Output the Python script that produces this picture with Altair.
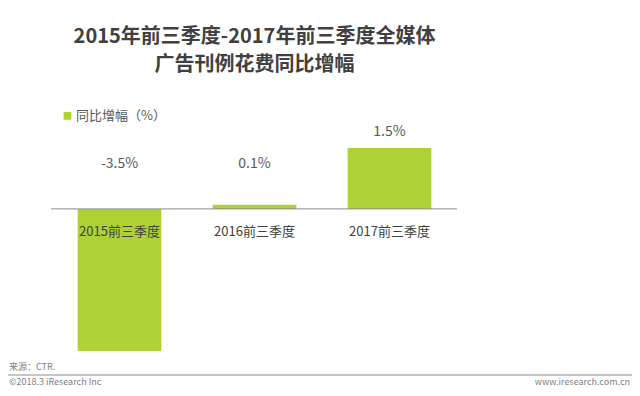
import altair as alt
import pandas as pd

categories = ["2015前三季度", "2016前三季度", "2017前三季度"]
values = [-3.5, 0.1, 1.5]
value_labels = ["-3.5%", "0.1%", "1.5%"]
series_name = "同比增幅（%）"
title_lines = ["2015年前三季度-2017年前三季度全媒体", "广告刊例花费同比增幅"]
source_text = "来源：CTR."
copyright_text = "©2018.3 iResearch Inc"
site_text = "www.iresearch.com.cn"

df = pd.DataFrame({
    "cat": categories,
    "value": values,
    "label": value_labels,
    "series": [series_name] * len(categories),
})

FONT = "Noto Sans CJK SC"
GREEN = "#aed136"
GRAY = "#595959"

xscale = alt.Scale(domain=categories, paddingInner=0.38, paddingOuter=0.19)
yscale = alt.Scale(domain=[-3.5, 2.5], nice=False, zero=True)

base = alt.Chart(df)

bars = base.mark_bar().encode(
    x=alt.X("cat:N", scale=xscale, axis=None, sort=categories),
    y=alt.Y("value:Q", scale=yscale, axis=None),
    y2=alt.datum(0),
    color=alt.Color(
        "series:N",
        scale=alt.Scale(range=[GREEN]),
        legend=alt.Legend(
            orient="none", legendX=9, legendY=2, title=None,
            symbolType="square", symbolSize=60, symbolStrokeWidth=0,
            labelFontSize=13, labelColor=GRAY, labelFont=FONT, labelOffset=2,
        ),
    ),
)

baseline = alt.Chart(pd.DataFrame({"v": [0]})).mark_rule(color="#8c8c8c", strokeWidth=1).encode(
    y=alt.Y("v:Q", scale=yscale, axis=None),
    x=alt.value(-1), x2=alt.value(405),
)

value_text = base.transform_calculate(
    pos="max(datum.value, 0.7)"
).mark_text(fontSize=14, color=GRAY, font=FONT, baseline="middle", dy=-16).encode(
    x=alt.X("cat:N", scale=xscale, axis=None, sort=categories),
    y=alt.Y("pos:Q", scale=yscale, axis=None),
    text="label:N",
)

cat_text = base.transform_calculate(zero="0").mark_text(
    fontSize=13, color="#404040", font=FONT, baseline="middle", dy=23
).encode(
    x=alt.X("cat:N", scale=xscale, axis=None, sort=categories),
    y=alt.Y("zero:Q", scale=yscale, axis=None),
    text="cat:N",
)

# footer (positions in plot coordinates; plot origin at page (52, 107.4))
OX, OY = 52, 107.4
source = alt.Chart(pd.DataFrame({"t": [source_text]})).mark_text(
    fontSize=9, color="#7f7f7f", font=FONT, align="left", baseline="middle"
).encode(text="t:N", x=alt.value(9 - OX), y=alt.value(367 - OY))
copyr = alt.Chart(pd.DataFrame({"t": [copyright_text]})).mark_text(
    fontSize=9, color="#7f7f7f", font=FONT, align="left", baseline="middle"
).encode(text="t:N", x=alt.value(9 - OX), y=alt.value(382 - OY))
site = alt.Chart(pd.DataFrame({"t": [site_text]})).mark_text(
    fontSize=9, color="#7f7f7f", font=FONT, align="right", baseline="middle"
).encode(text="t:N", x=alt.value(630 - OX), y=alt.value(382 - OY))
footline = alt.Chart(pd.DataFrame({"v": [0]})).mark_rule(color="#8c8c8c", strokeWidth=1).encode(
    x=alt.value(8 - OX), x2=alt.value(632 - OX), y=alt.value(375 - OY)
)

chart = alt.layer(bars, baseline, value_text, cat_text, source, copyr, site, footline).properties(
    width=405,
    height=243.6,
    autosize=alt.AutoSizeParams(type="none"),
    padding={"left": 44, "top": 99.4, "right": 175, "bottom": 37},
    title=alt.TitleParams(
        text=title_lines, fontSize=20, lineHeight=28, font=FONT, fontWeight="bold",
        color="#404040", anchor="middle", frame="group", offset=32,
    ),
).configure_view(stroke=None)

chart.save("out.html", embed_options={"renderer": "svg", "actions": False})
